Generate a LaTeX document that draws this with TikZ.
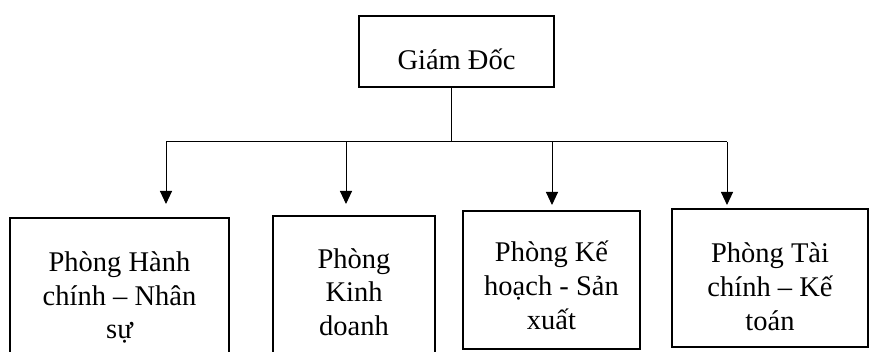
\documentclass[tikz,border=0pt]{standalone}
\usepackage{fontspec}
\setmainfont{Liberation Serif}
\usetikzlibrary{arrows.meta}
\begin{document}
\begin{tikzpicture}[x=1pt,y=-1pt,
  box/.style={draw=black,line width=2pt,inner sep=0pt},
  txt/.style={inner sep=0pt,anchor=base,font=\fontsize{28.5}{33.5}\selectfont},
  conn/.style={draw=black,line width=1pt},
  arr/.style={conn,-{Triangle[width=12pt,length=13pt]}}]
\useasboundingbox (0,0) rectangle (869,352);
\clip (0,0) rectangle (869,352);
\fill[white] (0,0) rectangle (869,352);
\node[box,minimum width=195pt,minimum height=71pt] (gd) at (456.5,51.5) {};
\node[box,minimum width=219pt,minimum height=142pt] (b1) at (119.5,289) {};
\node[box,minimum width=162pt,minimum height=140pt] (b2) at (354,286) {};
\node[box,minimum width=177pt,minimum height=138pt] (b3) at (551.5,280) {};
\node[box,minimum width=196pt,minimum height=138pt] (b4) at (770,278) {};
\node[txt] (lgd) at (456.5,69.3) {Giám Đốc};
\node[txt] (l1) at (119.5,272) {\begin{tabular}[t]{@{}c@{}}Phòng Hành\\chính – Nhân\\sự\end{tabular}};
\node[txt] (l2) at (354,268.5) {\begin{tabular}[t]{@{}c@{}}Phòng\\Kinh\\doanh\end{tabular}};
\node[txt] (l3) at (551.5,262) {\begin{tabular}[t]{@{}c@{}}Phòng Kế\\hoạch - Sản\\xuất\end{tabular}};
\node[txt] (l4) at (770,263) {\begin{tabular}[t]{@{}c@{}}Phòng Tài\\chính – Kế\\toán\end{tabular}};
\coordinate (j) at (451,142);
\coordinate (h1) at (166,142);
\coordinate (h2) at (346,142);
\coordinate (h3) at (552,142);
\coordinate (h4) at (727,142);
\coordinate (t1) at (166,204);
\coordinate (t2) at (346,204);
\coordinate (t3) at (552,205);
\coordinate (t4) at (727,205);
\draw[conn] (gd.south -| j) -- (j);
\draw[conn] (h1) -- (h4);
\draw[arr] (h1) -- (t1);
\draw[arr] (h2) -- (t2);
\draw[arr] (h3) -- (t3);
\draw[arr] (h4) -- (t4);
\end{tikzpicture}
\end{document}
